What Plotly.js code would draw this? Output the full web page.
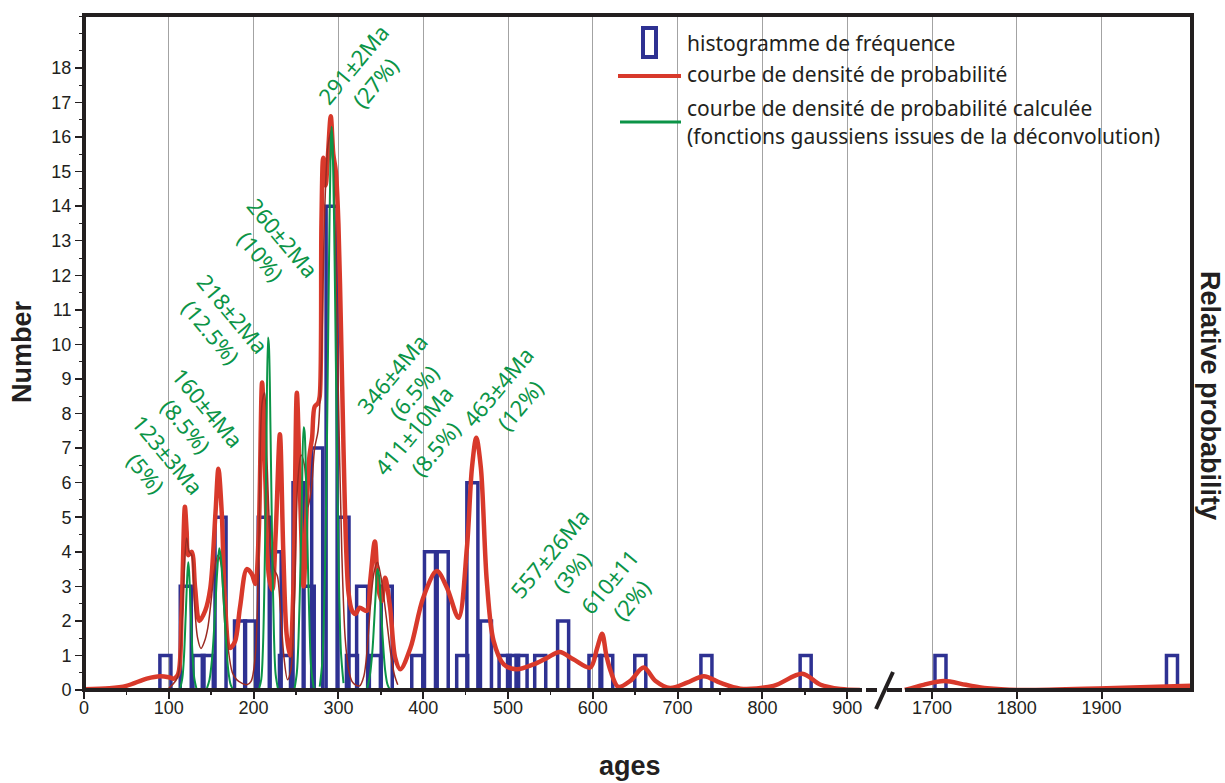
<!DOCTYPE html>
<html>
<head>
<meta charset="utf-8">
<script src="https://cdn.plot.ly/plotly-3.0.1.min.js"></script>
<style>html,body{margin:0;padding:0;background:#fff;}#chart{width:1225px;height:783px;}</style>
</head>
<body>
<div id="chart"></div>
<script>
// ---------- data (ages in Ma) ----------
const histAge   = [96,120,135,146,161,184,196,212,226,237,253,265,275,292,306,316,328,343,357,393,408,423,446,458,474,496,506,516,538,565,602,617,656,734,851,1710,1983];
const histCount = [1,3,1,1,5,2,2,5,4,1,6,3,7,14,5,1,3,1,3,1,4,4,1,6,2,1,1,1,1,2,1,1,1,1,1,1,1];

// probability density curve (thick red), left of the axis break
const redAgeA = [0,30,50,74,90,100,106,111,115,119,121,123,127,131,136,143,149,155,158.5,162.5,166,172,178,184,192,198,202,206,210,214,218,222,226,231,235,239,243,247,251,255,259,263,266,269,272,276,278,280,282,285,287,291,294,297,300,303,306,309,312,316,320,325,333.5,337.5,343,347,351,355,361,367,373,385,400,416,428,441.7,451.5,457.5,462.6,468,475,483,495,510,530,546,561,577,597,605,611,616,621,630,644,660,674,691,711,731,750,774,813,847,868,892,915];
const redValA = [0.02,0.05,0.12,0.33,0.4,0.37,0.33,0.46,2.2,5.3,4.6,3.9,4.0,2.96,2.0,2.3,2.96,5.1,6.4,5.1,2.67,1.22,1.4,2.4,3.5,3.35,3.07,4.5,8.9,6.0,3.3,2.9,4.5,7.4,4.0,1.6,1.0,3.0,8.6,5.5,3.0,5.5,6.8,7.3,8.2,8.3,8.5,13.5,15.4,14.6,15.2,16.6,15.5,15.0,13.5,10.5,7.0,4.2,2.8,2.3,2.2,2.38,2.29,3.15,4.3,2.96,2.57,3.25,2.38,0.93,0.6,1.22,2.67,3.44,2.96,2.09,4.1,6.43,7.3,6.43,3.15,1.42,0.74,0.6,0.74,0.93,1.1,0.89,0.65,1.2,1.63,1.0,0.55,0.09,0.26,0.65,0.26,0.06,0.21,0.4,0.21,0.04,0.12,0.47,0.16,0.03,0.0];
// right of the axis break
const redAgeB = [1668,1690,1714,1740,1765,1804,1906,2006];
const redValB = [0.0,0.15,0.26,0.15,0.05,0.0,0.05,0.12];

// thin dark red curve
const darkAge = [100,110,114,118,121,124,127,130,134,138,142,146,150,154,158,162,166,170,175,180,186,192,197,202,206,210,213,216,220,224,228,232,236,240,244,248,252,256,260,264,268,272,276,280,284,288,292,296,300,304,308,312,316,320,325,330,334,338,342,346,350,354,358,362,366,370];
const darkVal = [0.05,0.35,1.2,3.3,4.4,4.0,3.9,2.6,1.5,1.2,1.4,1.8,2.6,3.5,3.9,3.6,2.4,1.2,0.5,0.3,0.2,0.15,0.25,1.0,4.0,8.3,8.6,6.5,4.2,3.5,3.3,2.2,0.9,0.3,0.6,2.5,6.0,6.8,6.5,5.3,5.8,7.0,7.5,9.5,14.0,15.8,16.2,13.5,8.5,4.0,1.5,0.6,0.25,0.15,0.12,0.4,1.2,2.5,3.4,3.7,3.3,2.6,1.8,1.0,0.45,0.15];

// calculated gaussian components (green)
const g123Age = [113,116,118,120,122,123,124,126,128,130,133];
const g123Val = [0,0.35,1.0,2.2,3.4,3.7,3.4,2.2,1.0,0.35,0];
const g160Age = [145,148,151,154,157,159.5,161,164,167,170,173,176];
const g160Val = [0.05,0.3,0.9,2.0,3.4,4.1,3.9,2.9,1.6,0.6,0.15,0];
const g218Age = [206,209,211,213,215,217,218,220,222,224,226,229];
const g218Val = [0,0.3,1.2,3.4,6.8,10.2,10.0,7.4,4.0,1.6,0.45,0];
const g260Age = [248,251,253,255,257,259,260,262,264,266,268,271];
const g260Val = [0,0.5,1.5,3.3,5.6,7.6,7.5,6.0,3.7,1.8,0.6,0.05];
const g291Age = [278,281,283,285,287,289,291,292,293,295,297,299,301,303,306];
const g291Val = [0.1,0.8,2.2,4.6,8.2,12.5,15.8,16.3,15.9,13.4,9.5,5.6,2.7,1.1,0.2];
const g346Age = [334,337,340,342,344,346,348,350,352,355,358,361];
const g346Val = [0.05,0.4,1.1,1.9,2.8,3.5,3.3,2.5,1.6,0.6,0.15,0];

// peak labels
const peakLabels = ["123±3Ma<br>(5%)","160±4Ma<br>(8.5%)","218±2Ma<br>(12.5%)","260±2Ma<br>(10%)","291±2Ma<br>(27%)","346±4Ma<br>(6.5%)","411±10Ma<br>(8.5%)","463±4Ma<br>(12%)","557±26Ma<br>(3%)","610±11<br>(2%)"];

// axis ticks
const xTickAges   = [0,100,200,300,400,500,600,700,800,900,1700,1800,1900];
const xTickLabels = ["0","100","200","300","400","500","600","700","800","900","1700","1800","1900"];
const xMinorAges  = [50,150,250,350,450,550,650,750,850];
const yTickVals   = [0,1,2,3,4,5,6,7,8,9,10,11,12,13,14,15,16,17,18];

const legendTexts = ["histogramme de fréquence","courbe de densité de probabilité","courbe de densité de probabilité calculée","(fonctions gaussiens issues de la déconvolution)"];

// ---------- scale break: ages beyond 1000 Ma are shifted by 700 ----------
const BREAK_SHIFT = 700;
const disp = a => (a > 1000 ? a - BREAK_SHIFT : a);

// ---------- layout geometry (pixels) ----------
const W = 1225, H = 783, L = 84, R = 1192, T = 15, B = 690;
const px = x => (x - L) / (R - L);
const py = y => (B - y) / (B - T);

const RED = '#d8392b', GREEN = '#0b9447', BLUE = '#2e3192', DARK = '#231f20';
const TXT = "'Noto Sans', 'Open Sans', sans-serif";
const NUM = "'Liberation Sans', Arial, sans-serif";

const traces = [
  { type:'bar', x: histAge.map(disp), y: histCount, width: 13,
    marker:{ color:'rgba(255,255,255,0)', line:{ color: BLUE, width: 3.5 } },
    hoverinfo:'skip', showlegend:false },
  { type:'scatter', mode:'lines',
    x: redAgeA.map(disp).concat([null], redAgeB.map(disp)),
    y: redValA.concat([null], redValB),
    line:{ color: RED, width: 4.5, shape:'spline', smoothing: 0.9 }, connectgaps:false, showlegend:false },
  { type:'scatter', mode:'lines', x: darkAge, y: darkVal,
    line:{ color:'#9b2a22', width: 1.5, shape:'spline', smoothing: 0.9 }, showlegend:false }
];
[[g123Age,g123Val],[g160Age,g160Val],[g218Age,g218Val],[g260Age,g260Val],[g291Age,g291Val],[g346Age,g346Val]].forEach(([a,v]) => {
  traces.push({ type:'scatter', mode:'lines', x:a, y:v,
    line:{ color: GREEN, width: 2, shape:'spline', smoothing: 0.9 }, showlegend:false });
});

// ---------- decorations ----------
const seg = (x0,y0,x1,y1,w) => ({ type:'line', xref:'paper', yref:'paper', x0:px(x0), y0:py(y0), x1:px(x1), y1:py(y1), line:{ color: DARK, width: w }, layer:'above' });
const shapes = [
  seg(L, T, L, B + 2, 4),          // left frame
  seg(L - 2, T, R + 2, T, 4),      // top frame
  seg(R, T, R, B + 2, 4),          // right frame
  seg(L - 2, B, 862, B, 4),        // x axis before break
  seg(866, B, 877, B, 4),
  seg(887, B, 902, B, 4),
  seg(905, B, R + 2, B, 4),        // x axis after break
  seg(893, 672, 876, 709, 4),      // break slash
  // legend
  { type:'rect', xref:'paper', yref:'paper', x0:px(643), x1:px(656), y0:py(57), y1:py(28), line:{ color: BLUE, width: 4 }, fillcolor:'rgba(0,0,0,0)' },
  { type:'line', xref:'paper', yref:'paper', x0:px(618), x1:px(681), y0:py(76), y1:py(76), line:{ color: RED, width: 4 } },
  { type:'line', xref:'paper', yref:'paper', x0:px(620), x1:px(681), y0:py(122), y1:py(122), line:{ color: GREEN, width: 3 } }
];

const labelPos = [[157,463,50],[197,416,50],[222,322,50],[272,246,50],[364,74,-50],[402,383,-50],[424,439,-50],[508,396,-50],[560,562,-50],[620,590,-50]];
const annotations = peakLabels.map((t,i) => ({
  text: t, xref:'paper', yref:'paper', x: px(labelPos[i][0]), y: py(labelPos[i][1]),
  xanchor:'center', yanchor:'middle', textangle: labelPos[i][2], showarrow:false, align:'center',
  font:{ family: TXT, size: 22, color: GREEN }
}));
const legY = [43, 74, 108, 136];
legendTexts.forEach((t,i) => annotations.push({
  text: t, xref:'paper', yref:'paper', x: px(685), y: py(legY[i]), xanchor:'left', yanchor:'middle',
  showarrow:false, font:{ family: TXT, size: 21, color: DARK }
}));
annotations.push({ text:'<b>Number</b>', xref:'paper', yref:'paper', x: px(22), y: py(352), xanchor:'center', yanchor:'middle', textangle:-90, showarrow:false, font:{ family: NUM, size: 27, color: DARK } });
annotations.push({ text:'<b>ages</b>', xref:'paper', yref:'paper', x: px(630), y: py(766), xanchor:'center', yanchor:'middle', showarrow:false, font:{ family: NUM, size: 27, color: DARK } });
annotations.push({ text:'<b>Relative probability</b>', xref:'paper', yref:'paper', x: px(1210), y: py(395), xanchor:'center', yanchor:'middle', textangle:90, showarrow:false, font:{ family: NUM, size: 27, color: DARK } });

const layout = {
  width: W, height: H, autosize:false,
  margin:{ l: L, r: W - R, t: T, b: H - B, pad: 0 },
  paper_bgcolor:'#fff', plot_bgcolor:'#fff',
  barmode:'overlay', bargap:0, showlegend:false,
  xaxis:{ range:[0, (R - L) / 0.848], tickmode:'array', tickvals: xTickAges.map(disp), ticktext: xTickLabels,
    ticks:'outside', ticklen: 8, tickwidth: 2, tickcolor: DARK, ticklabelstandoff: -7,
    tickfont:{ family: NUM, size: 18, color: DARK },
    showline:false, zeroline:false, showgrid:true, gridcolor:'#a3a3a3', gridwidth: 1,
    minor:{ tickmode:'array', tickvals: xMinorAges, ticks:'outside', ticklen: 4, tickwidth: 1.5, tickcolor: DARK, showgrid:false },
    fixedrange:true },
  yaxis:{ range:[0, (B - T) / 34.56], tickmode:'array', tickvals: yTickVals,
    ticks:'outside', ticklen: 8, tickwidth: 1.5, tickcolor: DARK,
    tickfont:{ family: NUM, size: 18, color: DARK },
    showline:false, zeroline:false, showgrid:false,
    minor:{ tickmode:'linear', tick0: 0, dtick: 0.5, ticks:'outside', ticklen: 4, tickwidth: 1, tickcolor: DARK },
    fixedrange:true },
  shapes, annotations
};

Plotly.newPlot('chart', traces, layout, { displayModeBar:false, staticPlot:true });
</script>
</body>
</html>
